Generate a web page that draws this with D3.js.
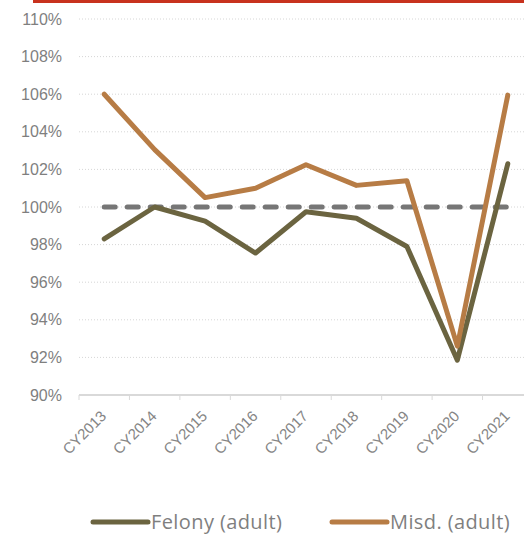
<!DOCTYPE html>
<html>
<head>
<meta charset="utf-8">
<script src="https://cdn.jsdelivr.net/npm/d3@7"></script>
<style>
  html, body { margin: 0; padding: 0; background: #fff; }
  svg { display: block; font-family: "Open Sans", "Noto Sans", sans-serif; }
</style>
</head>
<body>
<svg id="chart" width="524" height="535"></svg>
<script>
// Year labels along the x axis
const years = ["CY2013", "CY2014", "CY2015", "CY2016", "CY2017", "CY2018", "CY2019", "CY2020", "CY2021"];
// Caseload relative to baseline (percent)
const felony = [98.3, 100.0, 99.25, 97.55, 99.75, 99.4, 97.9, 91.85, 102.3];
const misd   = [106.0, 103.05, 100.5, 101.0, 102.25, 101.15, 101.4, 92.6, 105.95];
const baseline = [100, 100, 100, 100, 100, 100, 100, 100, 100];
const yTicks = [90, 92, 94, 96, 98, 100, 102, 104, 106, 108, 110];
const seriesNames = ["Felony (adult)", "Misd. (adult)"];

const colors = { felony: "#6b6440", misd: "#b77c45", base: "#767676" };

const svg = d3.select("#chart");
const W = 524;
const plotLeft = 79, plotRight = 533, plotTop = 19, plotBottom = 395;

// Red rule at the top
svg.append("rect").attr("x", 33).attr("y", 0).attr("width", W - 33).attr("height", 3).attr("fill", "#c8321e");

const x = d3.scaleBand().domain(years).range([plotLeft, plotRight]);
const y = d3.scaleLinear().domain([90, 110]).range([plotBottom, plotTop]);
const cx = d => x(d) + x.bandwidth() / 2;

// Horizontal dotted gridlines
svg.append("g").selectAll("line")
  .data(yTicks.filter(t => t !== 90))
  .join("line")
  .attr("x1", plotLeft).attr("x2", W)
  .attr("y1", d => y(d)).attr("y2", d => y(d))
  .attr("stroke", "#d6d6d6").attr("stroke-width", 1)
  .attr("stroke-dasharray", "1,2");

// Y axis labels
const yAxis = d3.axisLeft(y).tickValues(yTicks).tickFormat(d => d + "%").tickSize(0).tickPadding(17);
const gy = svg.append("g").attr("transform", `translate(${plotLeft},0)`).call(yAxis);
gy.select(".domain").remove();
gy.selectAll("text").attr("fill", "#7f7f7f").style("font-size", "16px");

// X axis
const xAxis = d3.axisBottom(x).tickSize(0).tickFormat(d => d);
const gx = svg.append("g").attr("transform", `translate(0,${plotBottom})`).call(xAxis);
gx.select(".domain").attr("stroke", "#d9d9d9").attr("stroke-width", 2).attr("d", `M${plotLeft},0H${plotRight}`);
gx.selectAll("text")
  .attr("fill", "#858585").style("font-size", "15px")
  .attr("text-anchor", "end")
  .attr("x", 0).attr("y", 0).attr("dy", "0")
  .attr("transform", "translate(3,22) rotate(-45)");
// tick marks at band boundaries
svg.append("g").selectAll("line")
  .data(years)
  .join("line")
  .attr("x1", d => x(d)).attr("x2", d => x(d))
  .attr("y1", plotBottom).attr("y2", plotBottom + 5)
  .attr("stroke", "#d9d9d9").attr("stroke-width", 1);

const line = d3.line().x((d, i) => cx(years[i])).y(d => y(d));

// 100% reference
svg.append("path").datum(baseline).attr("d", line)
  .attr("fill", "none").attr("stroke", colors.base).attr("stroke-width", 5)
  .attr("stroke-dasharray", "11,12").attr("stroke-linecap", "round");

svg.append("path").datum(felony).attr("d", line)
  .attr("fill", "none").attr("stroke", colors.felony).attr("stroke-width", 5)
  .attr("stroke-linejoin", "round").attr("stroke-linecap", "round");

svg.append("path").datum(misd).attr("d", line)
  .attr("fill", "none").attr("stroke", colors.misd).attr("stroke-width", 5)
  .attr("stroke-linejoin", "round").attr("stroke-linecap", "round");

// Legend
const legend = [
  { name: seriesNames[0], color: colors.felony, x: 93 },
  { name: seriesNames[1], color: colors.misd, x: 332 }
];
const lg = svg.append("g").selectAll("g").data(legend).join("g")
  .attr("transform", d => `translate(${d.x},522)`);
lg.append("line").attr("x1", 0).attr("x2", 55).attr("y1", 0).attr("y2", 0)
  .attr("stroke", d => d.color).attr("stroke-width", 5).attr("stroke-linecap", "round");
lg.append("text").attr("x", 58).attr("y", 7).text(d => d.name)
  .attr("fill", "#7f7f7f").style("font-size", "20px").style("letter-spacing", "0.4px");
</script>
</body>
</html>
